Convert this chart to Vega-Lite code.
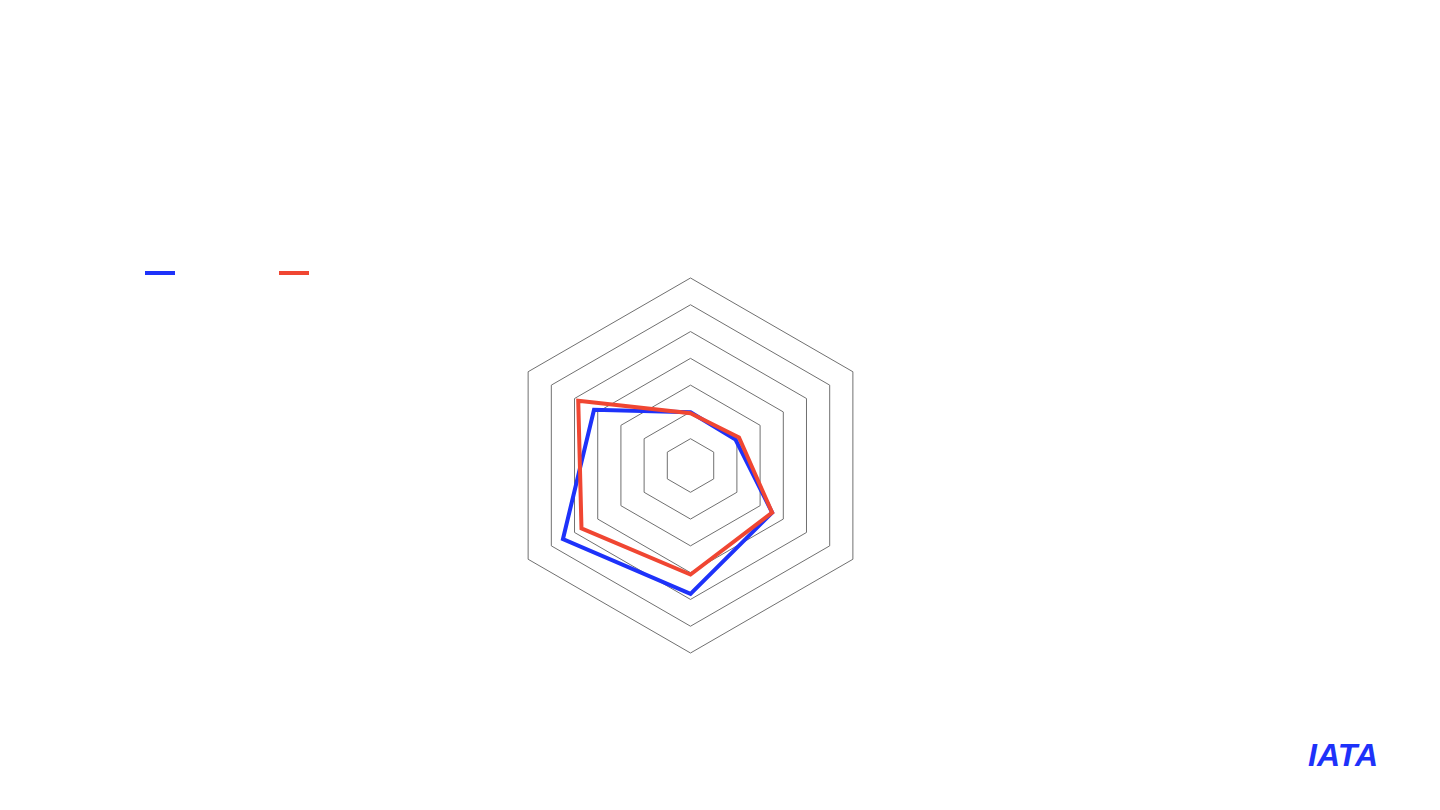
{
  "$schema": "https://vega.github.io/schema/vega-lite/v6.json",
  "width": 1440,
  "height": 810,
  "autosize": "none",
  "padding": 0,
  "background": "white",
  "config": {"view": {"stroke": null}},
  "title": {"text": "IATA", "orient": "bottom", "anchor": "end", "offset": -69, "dx": -62, "fontSize": 32, "font": "Liberation Sans", "fontWeight": "bold", "fontStyle": "italic", "color": "#1E32FA", "frame": "group"},
  "datasets": {
    "series": [
      {"series": "Series 1", "k": 0, "value": 1.99},
      {"series": "Series 1", "k": 1, "value": 1.94},
      {"series": "Series 1", "k": 2, "value": 3.52},
      {"series": "Series 1", "k": 3, "value": 4.79},
      {"series": "Series 1", "k": 4, "value": 5.5},
      {"series": "Series 1", "k": 5, "value": 4.16},
      {"series": "Series 2", "k": 0, "value": 1.95},
      {"series": "Series 2", "k": 1, "value": 2.09},
      {"series": "Series 2", "k": 2, "value": 3.52},
      {"series": "Series 2", "k": 3, "value": 4.07},
      {"series": "Series 2", "k": 4, "value": 4.7},
      {"series": "Series 2", "k": 5, "value": 4.84}
    ],
    "grid": [
      {"level": 1, "ks": [0, 1, 2, 3, 4, 5]},
      {"level": 2, "ks": [0, 1, 2, 3, 4, 5]},
      {"level": 3, "ks": [0, 1, 2, 3, 4, 5]},
      {"level": 4, "ks": [0, 1, 2, 3, 4, 5]},
      {"level": 5, "ks": [0, 1, 2, 3, 4, 5]},
      {"level": 6, "ks": [0, 1, 2, 3, 4, 5]},
      {"level": 7, "ks": [0, 1, 2, 3, 4, 5]}
    ]
  },
  "layer": [
    {
      "data": {"name": "grid"},
      "transform": [
        {"flatten": ["ks"], "as": ["k"]},
        {"calculate": "datum.level * sin(datum.k * PI / 3)", "as": "x"},
        {"calculate": "datum.level * cos(datum.k * PI / 3)", "as": "y"}
      ],
      "mark": {"type": "line", "interpolate": "linear-closed", "stroke": "#707070", "strokeWidth": 1, "clip": false},
      "encoding": {
        "x": {"field": "x", "type": "quantitative", "scale": {"domain": [-25.779, 27.981], "nice": false, "zero": false}, "axis": null},
        "y": {"field": "y", "type": "quantitative", "scale": {"domain": [-12.861, 17.378], "nice": false, "zero": false}, "axis": null},
        "detail": {"field": "level", "type": "nominal"},
        "order": {"field": "k", "type": "quantitative"}
      }
    },
    {
      "data": {"name": "series"},
      "transform": [
        {"calculate": "datum.value * sin(datum.k * PI / 3)", "as": "x"},
        {"calculate": "datum.value * cos(datum.k * PI / 3)", "as": "y"}
      ],
      "mark": {"type": "line", "interpolate": "linear-closed", "strokeWidth": 4, "strokeJoin": "miter", "clip": false},
      "encoding": {
        "x": {"field": "x", "type": "quantitative", "scale": {"domain": [-25.779, 27.981], "nice": false, "zero": false}, "axis": null},
        "y": {"field": "y", "type": "quantitative", "scale": {"domain": [-12.861, 17.378], "nice": false, "zero": false}, "axis": null},
        "order": {"field": "k", "type": "quantitative"},
        "color": {
          "field": "series", "type": "nominal",
          "scale": {"domain": ["Series 1", "Series 2"], "range": ["#1E32FA", "#F04632"]},
          "legend": {
            "orient": "none", "legendX": 143, "legendY": 256, "direction": "horizontal",
            "title": null, "symbolType": "stroke", "symbolSize": 900, "symbolStrokeWidth": 4,
            "labelColor": "white", "labelFontSize": 14, "labelFont": "Inter", "columnPadding": 38, "padding": 0
          }
        }
      }
    }
  ]
}
